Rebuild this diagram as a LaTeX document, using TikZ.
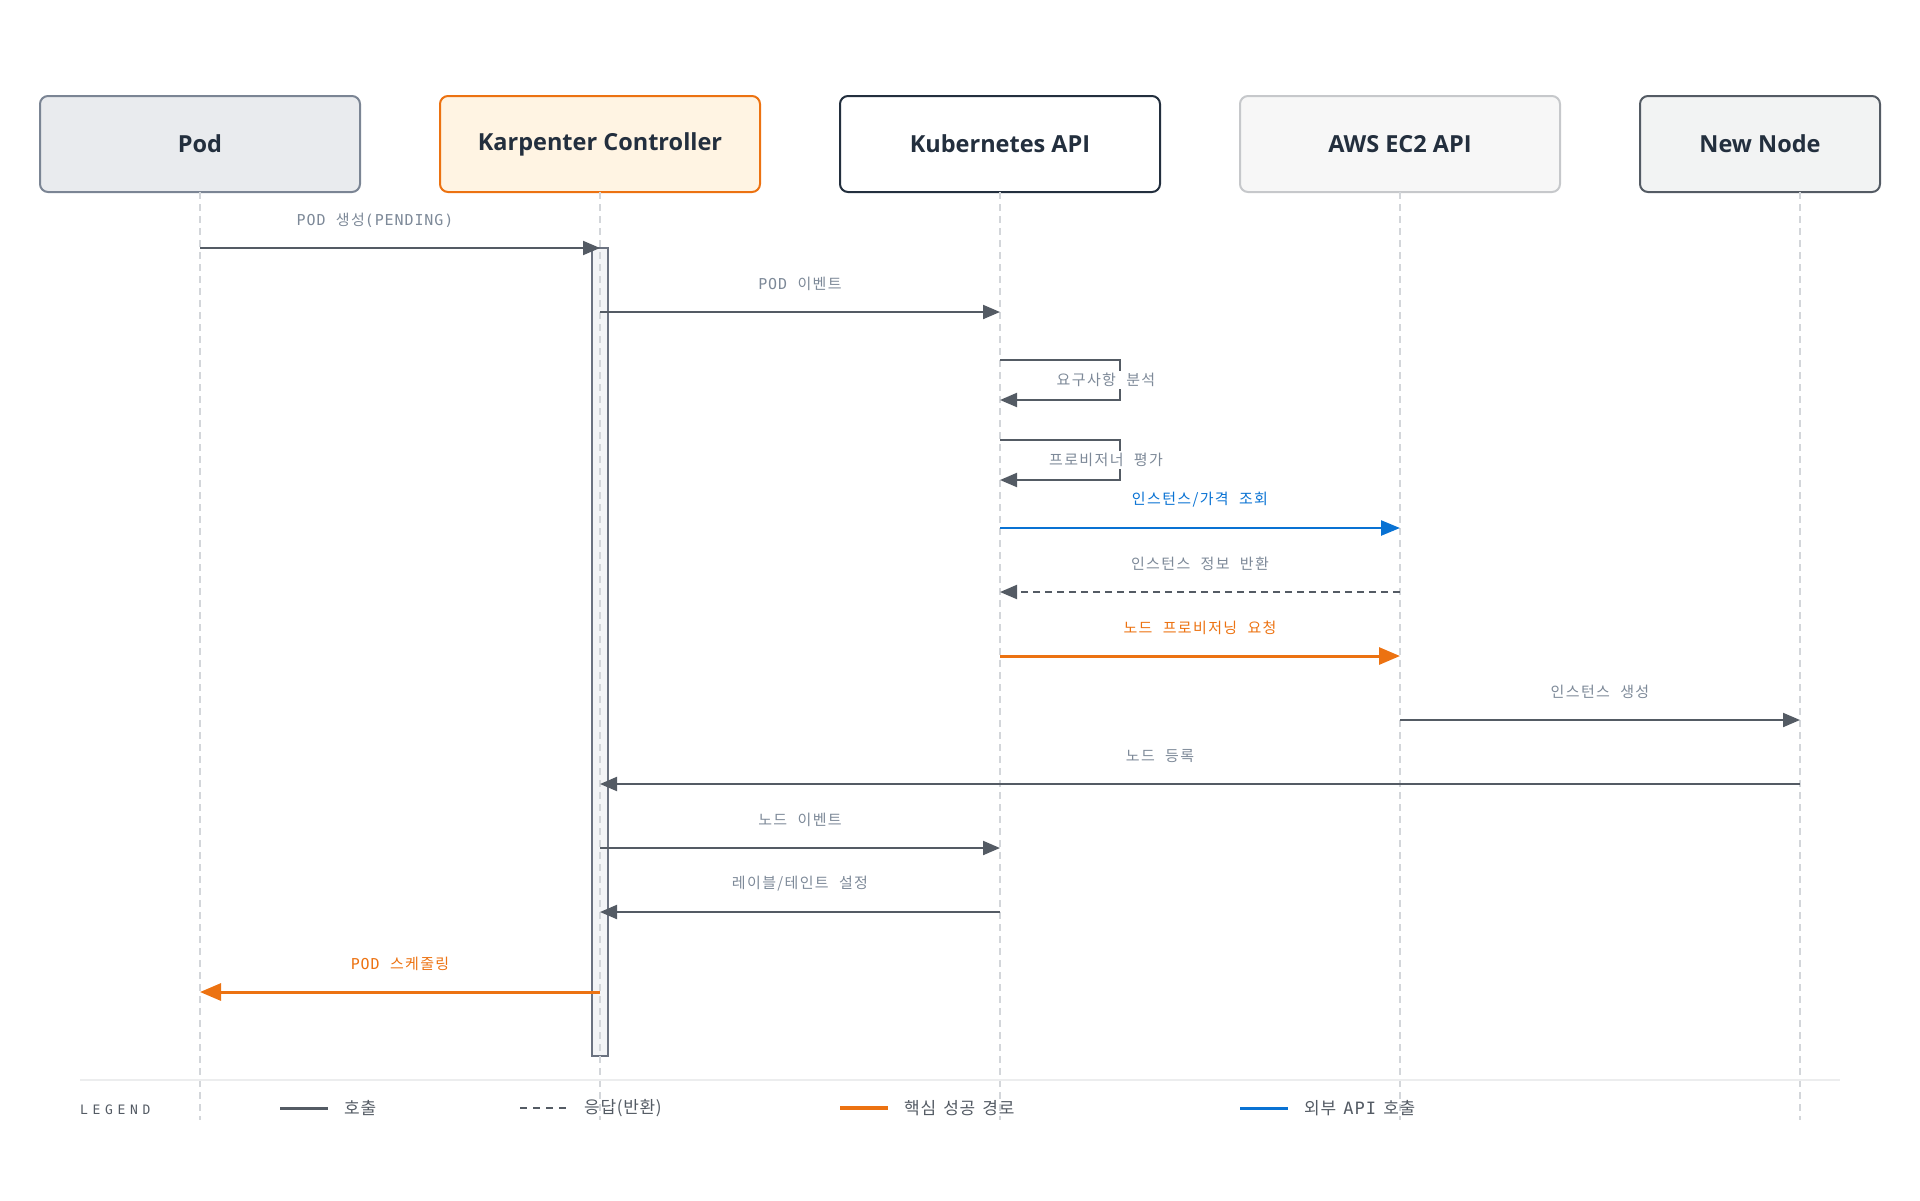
\documentclass[tikz,border=0pt]{standalone}
\usepackage{fontspec}
\setmainfont{Open Sans}
\newfontfamily\krfont{Noto Sans CJK KR}[LetterSpace=9, WordSpace=2.2]
\newfontfamily\monofont{DejaVu Sans Mono}[LetterSpace=6]
\newfontfamily\legendmono{DejaVu Sans Mono}[LetterSpace=36]
\newfontfamily\legendkr{Noto Sans CJK KR}[LetterSpace=4, WordSpace=1.6]
\usetikzlibrary{arrows.meta}
\definecolor{ink}{HTML}{232F3E}
\definecolor{callgray}{HTML}{545B64}
\definecolor{labelgray}{HTML}{7D8998}
\definecolor{awsorange}{HTML}{EC7211}
\definecolor{awsblue}{HTML}{0972D3}
\definecolor{lifegray}{HTML}{D3D6DA}
\definecolor{podfill}{HTML}{E9EBEE}
\definecolor{podborder}{HTML}{7B8594}
\definecolor{karpfill}{HTML}{FFF4E3}
\definecolor{ecfill}{HTML}{F7F7F7}
\definecolor{ecborder}{HTML}{C6C8CB}
\definecolor{nodefill}{HTML}{F2F3F3}
\definecolor{actfill}{HTML}{F3F4F6}
\definecolor{actgray}{HTML}{6B7280}
\definecolor{sepgray}{HTML}{ECEDEE}
\newcommand{\mn}[1]{{\monofont #1}}

\tikzset{
  actor/.style={rounded corners=8pt, line width=2pt, minimum width=320pt, minimum height=96pt,
    font=\fontsize{23.5}{26}\selectfont\bfseries, text=ink},
  lifeline/.style={draw=lifegray, line width=1.5pt, dash pattern=on 7pt off 5pt},
  call/.style={draw=callgray, line width=2pt, -{Triangle[length=17pt,width=14pt]}},
  reply/.style={call, dash pattern=on 7pt off 5pt},
  apicall/.style={draw=awsblue, line width=2.5pt, -{Triangle[length=19pt,width=15pt]}},
  keypath/.style={draw=awsorange, line width=3pt, -{Triangle[length=21pt,width=17pt]}},
  msglabel/.style={font=\krfont\fontsize{15}{17}\selectfont, text=labelgray, inner sep=2pt},
  legendtext/.style={anchor=west, font=\legendkr\fontsize{17}{19}\selectfont, text=callgray, inner sep=0pt},
}

\begin{document}
\begin{tikzpicture}[x=1pt, y=-1pt]
  \useasboundingbox (0,0) rectangle (1920,1200);

  % participants
  \node[actor, draw=podborder, fill=podfill] (pod) at (200,144) {Pod};
  \node[actor, draw=awsorange, fill=karpfill] (karp) at (600,144) {Karpenter Controller};
  \node[actor, draw=ink, fill=white] (kube) at (1000,144) {Kubernetes API};
  \node[actor, draw=ecborder, fill=ecfill] (ec2) at (1400,144) {AWS EC2 API};
  \node[actor, draw=callgray, fill=nodefill, minimum width=240pt] (newnode) at (1760,144) {New Node};

  % lifelines
  \coordinate (lpod) at (200,192);
  \coordinate (lkarp) at (600,192);
  \coordinate (lkube) at (1000,192);
  \coordinate (lec2) at (1400,192);
  \coordinate (lnode) at (1800,192);
  \node[draw=actgray, fill=actfill, line width=1.5pt, minimum width=16pt, minimum height=808pt, inner sep=0pt] (act) at (600,652) {};
  \draw[lifeline] (lpod) -- ++(0,928);
  \draw[lifeline] (lkarp) -- ++(0,928);
  \draw[lifeline] (lkube) -- ++(0,928);
  \draw[lifeline] (lec2) -- ++(0,928);
  \draw[lifeline] (lnode) -- ++(0,928);

  % messages
  \draw[call] (lpod |- 0,248) -- (lkarp |- 0,248);
  \node[msglabel] (m1) at (375,220) {\mn{POD} 생성\mn{(PENDING)}};

  \draw[call] (lkarp |- 0,312) -- (lkube |- 0,312);
  \node[msglabel] (m2) at (800,284) {\mn{POD} 이벤트};

  \draw[call] (lkube |- 0,360) -- (1120,360) -- (1120,400) -- (lkube |- 0,400);
  \node[msglabel, fill=white] (m3) at (1106,380) {요구사항 분석};

  \draw[call] (lkube |- 0,440) -- (1120,440) -- (1120,480) -- (lkube |- 0,480);
  \node[msglabel, fill=white] (m4) at (1106,460) {프로비저너 평가};

  \draw[apicall] (lkube |- 0,528) -- (lec2 |- 0,528);
  \node[msglabel, text=awsblue] (m5) at (1200,500) {인스턴스/가격 조회};

  \draw[reply] (lec2 |- 0,592) -- (lkube |- 0,592);
  \node[msglabel] (m6) at (1200,564) {인스턴스 정보 반환};

  \draw[keypath] (lkube |- 0,656) -- (lec2 |- 0,656);
  \node[msglabel, text=awsorange] (m7) at (1200,628) {노드 프로비저닝 요청};

  \draw[call] (lec2 |- 0,720) -- (lnode |- 0,720);
  \node[msglabel] (m8) at (1600,692) {인스턴스 생성};

  \draw[call] (lnode |- 0,784) -- (lkarp |- 0,784);
  \node[msglabel] (m9) at (1160,756) {노드 등록};

  \draw[call] (lkarp |- 0,848) -- (lkube |- 0,848);
  \node[msglabel] (m10) at (800,820) {노드 이벤트};

  \draw[call] (lkube |- 0,912) -- (lkarp |- 0,912);
  \node[msglabel] (m11) at (800,884) {레이블/테인트 설정};

  \draw[keypath] (lkarp |- 0,992) -- (lpod |- 0,992);
  \node[msglabel, text=awsorange] (m12) at (400,964) {\mn{POD} 스케줄링};

  % legend
  \draw[draw=sepgray, line width=2pt] (80,1080) -- (1840,1080);
  \node[anchor=west, inner sep=0pt, font=\legendmono\fontsize{13}{15}\selectfont, text=callgray] (legend) at (80,1110) {LEGEND};
  \draw[draw=callgray, line width=3pt] (280,1108) -- (328,1108);
  \node[legendtext] (k1) at (344,1108) {호출};
  \draw[draw=callgray, line width=2pt, dash pattern=on 7pt off 6pt] (520,1108) -- (568,1108);
  \node[legendtext] (k2) at (584,1108) {응답(반환)};
  \draw[draw=awsorange, line width=3.5pt] (840,1108) -- (888,1108);
  \node[legendtext] (k3) at (904,1108) {핵심 성공 경로};
  \draw[draw=awsblue, line width=3pt] (1240,1108) -- (1288,1108);
  \node[legendtext] (k4) at (1304,1108) {외부 \mn{API} 호출};
\end{tikzpicture}
\end{document}
